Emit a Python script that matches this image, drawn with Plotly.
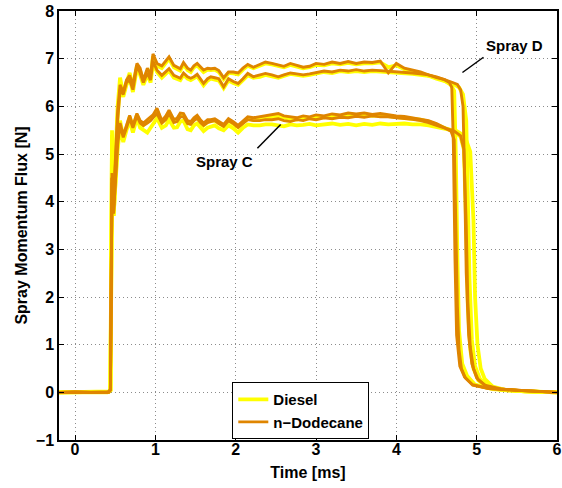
import plotly.graph_objects as go

# ---------------- data ----------------
T_BODY = [-0.2, 0.0, 0.2, 0.4, 0.42, 0.44, 0.46, 0.48, 0.5, 0.53, 0.56, 0.6, 0.64, 0.68, 0.72,
          0.77, 0.81, 0.85, 0.9, 0.94, 0.97, 1.02, 1.08, 1.13, 1.17, 1.23, 1.27, 1.31, 1.35, 1.4,
          1.44, 1.48, 1.52, 1.56, 1.6, 1.65, 1.69, 1.74, 1.79, 1.85, 1.91, 1.97, 2.03, 2.09, 2.15,
          2.22, 2.3, 2.37, 2.45, 2.53, 2.6, 2.68, 2.76, 2.84, 2.92, 3.0, 3.1, 3.2, 3.3, 3.4, 3.5,
          3.6, 3.7, 3.8, 3.9, 4.0, 4.1, 4.2, 4.3, 4.4, 4.5]

# Spray D, upper run
DH_DODEC = [0.0, 0.01, 0.0, 0.02, 0.01, 0.05, 4.5, 4.1, 4.9, 5.9, 6.45, 6.3, 6.55, 6.65, 6.45,
            6.9, 6.8, 6.55, 6.8, 6.65, 7.1, 6.9, 6.85, 6.95, 7.04, 6.86, 6.82, 6.79, 6.92, 6.8,
            6.76, 6.85, 6.9, 6.82, 6.76, 6.8, 6.79, 6.8, 6.75, 6.6, 6.72, 6.72, 6.7, 6.8, 6.88,
            6.82, 6.88, 6.93, 6.9, 6.86, 6.84, 6.9, 6.86, 6.82, 6.84, 6.9, 6.88, 6.93, 6.9, 6.94,
            6.9, 6.93, 6.92, 6.95, 6.7, 6.9, 6.8, 6.76, 6.72, 6.66, 6.62]
DH_DIESEL = [0.0, 0.0, 0.01, 0.01, 0.02, 0.04, 4.3, 4.0, 5.0, 6.0, 6.6, 6.25, 6.5, 6.7, 6.4,
             6.85, 6.75, 6.5, 6.75, 6.6, 7.05, 6.85, 6.8, 6.9, 7.0, 6.82, 6.78, 6.75, 6.88, 6.76,
             6.72, 6.82, 6.86, 6.78, 6.72, 6.77, 6.76, 6.77, 6.72, 6.57, 6.7, 6.69, 6.67, 6.77, 6.85,
             6.8, 6.86, 6.9, 6.88, 6.84, 6.82, 6.87, 6.84, 6.8, 6.82, 6.87, 6.86, 6.9, 6.88, 6.91,
             6.88, 6.9, 6.9, 6.92, 6.82, 6.86, 6.78, 6.74, 6.7, 6.65, 6.6]
# Spray D, lower run
DL_DODEC = [0.0, 0.0, 0.01, 0.0, 0.02, 0.06, 4.4, 3.9, 4.7, 5.7, 6.35, 6.25, 6.5, 6.55, 6.35,
            6.85, 6.7, 6.5, 6.7, 6.55, 6.95, 6.76, 6.65, 6.72, 6.79, 6.65, 6.62, 6.59, 6.7, 6.62,
            6.59, 6.62, 6.67, 6.58, 6.48, 6.58, 6.62, 6.6, 6.58, 6.41, 6.58, 6.52, 6.48, 6.58, 6.69,
            6.62, 6.65, 6.69, 6.66, 6.62, 6.66, 6.7, 6.68, 6.66, 6.68, 6.7, 6.74, 6.72, 6.76, 6.74,
            6.77, 6.74, 6.76, 6.75, 6.74, 6.72, 6.72, 6.7, 6.68, 6.66, 6.6]
DL_DIESEL = [0.0, 0.01, 0.0, 0.01, 0.01, 0.05, 4.2, 3.8, 4.8, 5.8, 6.4, 6.2, 6.45, 6.6, 6.3,
             6.8, 6.66, 6.45, 6.66, 6.5, 6.9, 6.72, 6.6, 6.68, 6.75, 6.6, 6.58, 6.55, 6.66, 6.58,
             6.55, 6.58, 6.63, 6.54, 6.44, 6.54, 6.58, 6.56, 6.54, 6.38, 6.54, 6.49, 6.45, 6.55, 6.65,
             6.6, 6.62, 6.66, 6.63, 6.6, 6.64, 6.68, 6.66, 6.64, 6.66, 6.68, 6.72, 6.7, 6.74, 6.72,
             6.74, 6.72, 6.74, 6.73, 6.72, 6.7, 6.7, 6.68, 6.66, 6.64, 6.58]
# Spray C, upper run
CH_DODEC = [0.0, 0.01, 0.0, 0.01, 0.0, 0.05, 4.6, 3.75, 4.5, 5.3, 5.65, 5.4, 5.6, 5.81, 5.6,
            5.85, 5.7, 5.65, 5.72, 5.78, 5.82, 5.96, 5.7, 5.8, 5.92, 5.72, 5.75, 5.86, 5.85, 5.7,
            5.68, 5.76, 5.81, 5.72, 5.65, 5.72, 5.72, 5.74, 5.68, 5.62, 5.74, 5.68, 5.6, 5.7, 5.78,
            5.76, 5.78, 5.8, 5.82, 5.85, 5.8, 5.78, 5.76, 5.8, 5.78, 5.82, 5.8, 5.84, 5.82, 5.86,
            5.84, 5.86, 5.83, 5.85, 5.82, 5.8, 5.79, 5.76, 5.74, 5.7, 5.64]
CH_DIESEL = [0.0, 0.0, 0.01, 0.02, 0.01, 0.04, 5.5, 3.7, 4.4, 5.25, 5.7, 5.35, 5.55, 5.78, 5.55,
             5.82, 5.66, 5.6, 5.68, 5.74, 5.78, 5.92, 5.66, 5.76, 5.88, 5.7, 5.72, 5.82, 5.8, 5.66,
             5.64, 5.72, 5.77, 5.68, 5.6, 5.68, 5.7, 5.7, 5.65, 5.58, 5.7, 5.64, 5.56, 5.66, 5.74,
             5.72, 5.74, 5.76, 5.78, 5.8, 5.76, 5.74, 5.72, 5.76, 5.75, 5.78, 5.77, 5.8, 5.79, 5.82,
             5.8, 5.82, 5.8, 5.81, 5.79, 5.77, 5.76, 5.74, 5.72, 5.68, 5.62]
# Spray C, lower run
CL_DODEC = [0.0, 0.0, 0.0, 0.01, 0.01, 0.05, 4.5, 3.8, 4.4, 5.2, 5.6, 5.35, 5.55, 5.75, 5.55,
            5.8, 5.65, 5.6, 5.65, 5.7, 5.76, 5.85, 5.65, 5.72, 5.85, 5.66, 5.68, 5.78, 5.78, 5.64,
            5.62, 5.7, 5.75, 5.66, 5.6, 5.66, 5.68, 5.7, 5.64, 5.58, 5.7, 5.64, 5.56, 5.64, 5.72,
            5.7, 5.7, 5.72, 5.72, 5.74, 5.7, 5.68, 5.72, 5.7, 5.74, 5.72, 5.76, 5.74, 5.77, 5.76,
            5.79, 5.77, 5.8, 5.78, 5.78, 5.76, 5.75, 5.73, 5.7, 5.66, 5.6]
CL_DIESEL = [0.0, 0.01, 0.0, 0.0, 0.02, 0.05, 5.4, 3.7, 4.3, 5.1, 5.55, 5.25, 5.5, 5.7, 5.45,
             5.75, 5.55, 5.5, 5.45, 5.55, 5.62, 5.75, 5.55, 5.6, 5.72, 5.55, 5.56, 5.68, 5.7, 5.52,
             5.5, 5.6, 5.64, 5.55, 5.48, 5.55, 5.58, 5.6, 5.54, 5.5, 5.6, 5.54, 5.45, 5.55, 5.62,
             5.6, 5.6, 5.62, 5.62, 5.6, 5.58, 5.62, 5.6, 5.61, 5.63, 5.6, 5.62, 5.64, 5.61, 5.63,
             5.6, 5.63, 5.61, 5.64, 5.62, 5.63, 5.64, 5.62, 5.62, 5.6, 5.57]

# end-of-injection tails (time, flux)
DH_DODEC_TAIL_T = [4.6, 4.66, 4.69, 4.71, 4.73, 4.75, 4.79, 4.85, 4.95, 5.15, 5.45, 5.8, 6.0]
DH_DODEC_TAIL_Y = [6.56, 6.5, 6.4, 5.2, 2.8, 1.2, 0.55, 0.32, 0.16, 0.08, 0.05, 0.02, 0.0]
DH_DIESEL_TAIL_T = [4.6, 4.68, 4.72, 4.74, 4.76, 4.78, 4.82, 4.88, 4.98, 5.2, 5.5, 6.0]
DH_DIESEL_TAIL_Y = [6.54, 6.45, 6.32, 5.0, 2.8, 1.3, 0.6, 0.35, 0.16, 0.07, 0.03, 0.0]
DL_DODEC_TAIL_T = [4.6, 4.7, 4.76, 4.8, 4.83, 4.85, 4.87, 4.9, 4.94, 5.0, 5.1, 5.3, 5.6, 6.0]
DL_DODEC_TAIL_Y = [6.56, 6.5, 6.46, 6.35, 6.0, 4.5, 2.5, 1.2, 0.6, 0.3, 0.15, 0.07, 0.03, 0.0]
DL_DIESEL_TAIL_T = [4.6, 4.7, 4.78, 4.83, 4.87, 4.89, 4.91, 4.94, 4.98, 5.04, 5.14, 5.35, 5.6, 6.0]
DL_DIESEL_TAIL_Y = [6.54, 6.48, 6.4, 6.25, 5.7, 4.2, 2.4, 1.1, 0.55, 0.28, 0.12, 0.05, 0.02, 0.0]
CH_DODEC_TAIL_T = [4.6, 4.68, 4.72, 4.74, 4.76, 4.78, 4.81, 4.86, 4.95, 5.15, 5.45, 6.0]
CH_DODEC_TAIL_Y = [5.56, 5.48, 5.3, 3.5, 1.8, 0.9, 0.5, 0.3, 0.15, 0.08, 0.05, 0.0]
CH_DIESEL_TAIL_T = [4.6, 4.72, 4.8, 4.84, 4.87, 4.89, 4.92, 4.96, 5.02, 5.12, 5.3, 5.6, 6.0]
CH_DIESEL_TAIL_Y = [5.55, 5.47, 5.36, 5.1, 3.5, 1.8, 0.9, 0.5, 0.25, 0.12, 0.05, 0.02, 0.0]
CL_DODEC_TAIL_T = [4.6, 4.72, 4.8, 4.84, 4.87, 4.89, 4.92, 4.96, 5.02, 5.12, 5.3, 5.6, 6.0]
CL_DODEC_TAIL_Y = [5.54, 5.48, 5.38, 5.1, 3.5, 1.9, 0.95, 0.5, 0.26, 0.13, 0.06, 0.03, 0.0]
CL_DIESEL_TAIL_T = [4.6, 4.75, 4.85, 4.92, 4.96, 4.98, 5.01, 5.05, 5.1, 5.2, 5.35, 5.6, 6.0]
CL_DIESEL_TAIL_Y = [5.53, 5.48, 5.38, 5.05, 3.6, 2.0, 1.0, 0.5, 0.28, 0.12, 0.05, 0.02, 0.0]

X_TICKS = [0, 1, 2, 3, 4, 5, 6]
Y_TICKS = [-1, 0, 1, 2, 3, 4, 5, 6, 7, 8]
FUELS = ["Diesel", "n\u2212Dodecane"]

# ---------------- figure ----------------
YELLOW = "#FFFF00"
ORANGE = "#DF8500"
FONT = "Liberation Sans, Arial, sans-serif"

diesel = [(DH_DIESEL, DH_DIESEL_TAIL_T, DH_DIESEL_TAIL_Y),
          (DL_DIESEL, DL_DIESEL_TAIL_T, DL_DIESEL_TAIL_Y),
          (CH_DIESEL, CH_DIESEL_TAIL_T, CH_DIESEL_TAIL_Y),
          (CL_DIESEL, CL_DIESEL_TAIL_T, CL_DIESEL_TAIL_Y)]
dodec = [(DH_DODEC, DH_DODEC_TAIL_T, DH_DODEC_TAIL_Y),
         (DL_DODEC, DL_DODEC_TAIL_T, DL_DODEC_TAIL_Y),
         (CH_DODEC, CH_DODEC_TAIL_T, CH_DODEC_TAIL_Y),
         (CL_DODEC, CL_DODEC_TAIL_T, CL_DODEC_TAIL_Y)]

fig = go.Figure()
for name, group, color, width in [(FUELS[0], diesel, YELLOW, 3.8), (FUELS[1], dodec, ORANGE, 2.9)]:
    for i, (body, tt, ty) in enumerate(group):
        fig.add_trace(go.Scatter(
            x=T_BODY + tt, y=body + ty, mode="lines", name=name,
            legendgroup=name, showlegend=(i == 0),
            line=dict(color=color, width=width)))

axis_common = dict(
    showline=True, linecolor="black", linewidth=1.5, mirror="ticks",
    ticks="inside", ticklen=5, tickwidth=1, tickcolor="black",
    showgrid=True, gridcolor="#8c8c8c", gridwidth=1, griddash="1px,3px",
    zeroline=False, automargin=False,
    tickfont=dict(family=FONT, size=16, color="black", weight="bold"),
)

fig.update_xaxes(range=[-0.2, 6], tickvals=X_TICKS, ticktext=[str(v) for v in X_TICKS],
                 ticklabelstandoff=-6,
                 title=dict(text="<b>Time [ms]</b>", standoff=10,
                            font=dict(family=FONT, size=16, color="black")),
                 **axis_common)
fig.update_yaxes(range=[-1, 8], tickvals=Y_TICKS,
                 ticktext=[("\u2212" + str(-v)) if v < 0 else str(v) for v in Y_TICKS],
                 title=dict(text="<b>Spray Momentum Flux [N]</b>", standoff=4,
                            font=dict(family=FONT, size=16, color="black")),
                 **axis_common)

fig.add_shape(type="line", x0=2.27, y0=5.12, x1=2.56, y1=5.62,
              line=dict(color="black", width=1.5))
fig.add_shape(type="line", x0=5.085, y0=7.03, x1=4.823, y1=6.71,
              line=dict(color="black", width=1.5))
fig.add_annotation(x=1.86, y=4.85, text="<b>Spray C</b>", showarrow=False,
                   font=dict(family=FONT, size=15, color="black"))
fig.add_annotation(x=5.47, y=7.27, text="<b>Spray D</b>", showarrow=False,
                   font=dict(family=FONT, size=15, color="black"))

fig.update_layout(
    width=562, height=488,
    margin=dict(l=59, r=5, t=11, b=48),
    plot_bgcolor="white", paper_bgcolor="white",
    legend=dict(x=0.348, y=0.135, xanchor="left", yanchor="top",
                bgcolor="white", bordercolor="black", borderwidth=1,
                font=dict(family=FONT, size=15, color="black", weight="bold"),
                tracegroupgap=0, itemwidth=30),
)

fig.write_html("out.html")
